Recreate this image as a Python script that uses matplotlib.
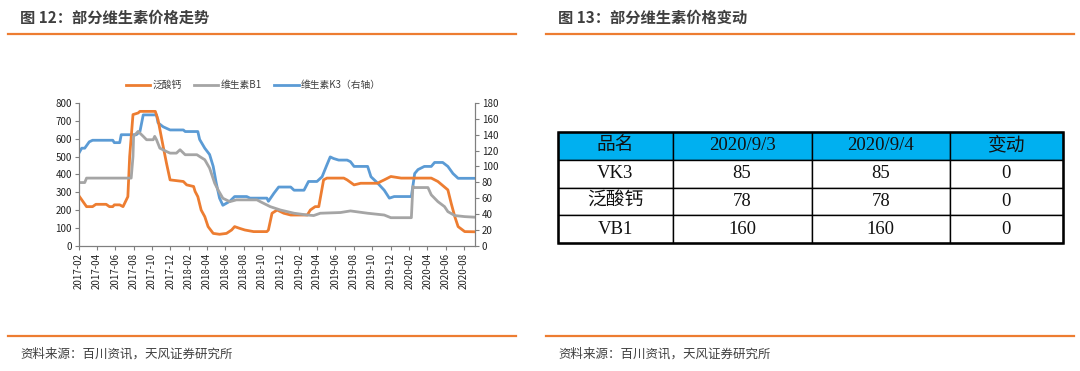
import matplotlib
matplotlib.use("Agg")
import matplotlib.pyplot as plt
import pandas as pd

plt.rcParams['font.family'] = ['Noto Sans CJK SC', 'DejaVu Sans']
plt.rcParams['axes.unicode_minus'] = False

# ---- data ----
ca_dates = ["2017-02-01", "2017-02-26", "2017-03-18", "2017-03-29", "2017-05-02", "2017-05-13",
            "2017-05-24", "2017-05-29", "2017-06-16", "2017-06-27", "2017-07-13", "2017-07-19",
            "2017-07-30", "2017-08-16", "2017-08-22", "2017-10-12", "2017-10-21", "2017-11-07",
            "2017-11-18", "2017-11-30", "2018-01-13", "2018-01-24", "2018-02-16", "2018-02-21",
            "2018-03-02", "2018-03-13", "2018-03-25", "2018-04-05", "2018-04-22", "2018-05-13",
            "2018-06-05", "2018-06-22", "2018-07-02", "2018-07-19", "2018-08-05", "2018-09-03",
            "2018-10-17", "2018-10-22", "2018-11-03", "2018-11-20", "2018-12-12", "2019-01-04",
            "2019-02-28", "2019-03-10", "2019-03-26", "2019-04-07", "2019-04-23", "2019-05-04",
            "2019-06-29", "2019-07-10", "2019-08-02", "2019-08-24", "2019-10-19", "2019-10-30",
            "2019-11-10", "2019-12-02", "2020-01-05", "2020-02-08", "2020-04-14", "2020-05-06",
            "2020-06-08", "2020-06-19", "2020-07-01", "2020-07-12", "2020-08-03", "2020-09-04"]
ca_values = [279, 219, 219, 232, 232, 219,
             219, 229, 229, 219, 275, 500,
             735, 744, 753, 753, 706, 557,
             463, 369, 360, 341, 332, 304,
             275, 200, 163, 107, 69, 64,
             69, 88, 107, 97, 88, 79,
             79, 88, 182, 200, 182, 172,
             172, 200, 219, 219, 369, 379,
             379, 369, 341, 350, 350, 360,
             369, 388, 379, 379, 379, 360,
             313, 238, 163, 107, 79, 78]

b1_dates = ["2017-02-01", "2017-02-20", "2017-02-26", "2017-07-24", "2017-07-30", "2017-08-01",
            "2017-08-16", "2017-09-02", "2017-09-13", "2017-10-05", "2017-10-10", "2017-10-16",
            "2017-10-27", "2017-11-18", "2017-11-30", "2017-12-21", "2018-01-02", "2018-01-19",
            "2018-02-27", "2018-03-08", "2018-03-25", "2018-04-10", "2018-04-27", "2018-05-08",
            "2018-05-24", "2018-06-16", "2018-07-08", "2018-09-14", "2018-09-25", "2018-10-28",
            "2018-12-01", "2019-01-15", "2019-02-28", "2019-03-21", "2019-04-12", "2019-06-18",
            "2019-07-21", "2019-09-16", "2019-11-10", "2019-12-02", "2020-02-08", "2020-02-13",
            "2020-02-19", "2020-04-03", "2020-04-14", "2020-05-06", "2020-05-28", "2020-06-08",
            "2020-07-01", "2020-08-03", "2020-09-04"]
b1_values = [354, 354, 379, 379, 500, 613,
             641, 613, 594, 594, 613, 594,
             547, 528, 519, 519, 538, 510,
             510, 500, 482, 435, 350, 313,
             266, 247, 257, 257, 247, 219,
             200, 182, 172, 169, 182, 186,
             195, 182, 172, 157, 157, 332,
             326, 326, 285, 247, 219, 191,
             169, 163, 160]

k3_dates = ["2017-02-01", "2017-02-10", "2017-02-20", "2017-03-07", "2017-03-18", "2017-05-24",
            "2017-05-29", "2017-06-16", "2017-06-21", "2017-08-10", "2017-08-22", "2017-09-02",
            "2017-10-16", "2017-10-21", "2017-11-07", "2017-11-30", "2018-01-13", "2018-01-19",
            "2018-03-02", "2018-03-08", "2018-03-25", "2018-04-10", "2018-04-22", "2018-05-02",
            "2018-05-13", "2018-05-24", "2018-06-16", "2018-07-02", "2018-08-11", "2018-08-22",
            "2018-10-17", "2018-10-22", "2018-11-09", "2018-11-25", "2019-01-04", "2019-01-15",
            "2019-02-17", "2019-03-04", "2019-04-01", "2019-04-18", "2019-05-04", "2019-05-15",
            "2019-05-26", "2019-06-12", "2019-07-10", "2019-07-21", "2019-08-02", "2019-09-16",
            "2019-09-27", "2019-10-19", "2019-11-10", "2019-11-27", "2019-12-13", "2020-02-08",
            "2020-02-19", "2020-03-01", "2020-03-22", "2020-04-14", "2020-04-25", "2020-05-22",
            "2020-06-08", "2020-06-25", "2020-07-12", "2020-09-04"]
k3_values = [117, 123, 123, 131, 133, 133,
             130, 130, 140, 140, 144, 165,
             165, 155, 150, 146, 146, 144,
             144, 134, 123, 115, 100, 79,
             60, 51, 56, 62, 62, 60,
             60, 56, 66, 74, 74, 70,
             70, 81, 81, 87, 102, 112,
             110, 108, 108, 106, 100, 100,
             87, 79, 70, 60, 62, 62,
             91, 96, 100, 100, 105, 105,
             100, 91, 85, 85]

table_header = ["品名", "2020/9/3", "2020/9/4", "变动"]
table_rows = [["VK3", "85", "85", "0"],
              ["泛酸钙", "78", "78", "0"],
              ["VB1", "160", "160", "0"]]

ORANGE = "#ED7D31"
GRAY = "#A5A5A5"
BLUE = "#5B9BD5"
TXT = "#3F3F3F"

fig = plt.figure(figsize=(10.8, 3.71), dpi=100)
W, H = 1080, 371

def fx(px):
    return px / W

def fy(py):
    return 1 - py / H

# ---- headers / footers ----
fig.text(fx(20), fy(18), "图 12：部分维生素价格走势", fontsize=11, fontweight='bold',
         color=TXT, va='center', ha='left')
fig.text(fx(558), fy(18), "图 13：部分维生素价格变动", fontsize=11, fontweight='bold',
         color=TXT, va='center', ha='left')
for x0, x1 in [(8, 516), (546, 1074)]:
    fig.add_artist(plt.Line2D([fx(x0), fx(x1)], [fy(34), fy(34)], color=ORANGE, lw=1.6))
    fig.add_artist(plt.Line2D([fx(x0), fx(x1)], [fy(336), fy(336)], color=ORANGE, lw=1.6))
fig.text(fx(20), fy(354), "资料来源：百川资讯，天风证券研究所", fontsize=9, color=TXT,
         va='center', ha='left')
fig.text(fx(558), fy(354), "资料来源：百川资讯，天风证券研究所", fontsize=9, color=TXT,
         va='center', ha='left')

# ---- line chart ----
ax = fig.add_axes([fx(79), fy(245.7), fx(475 - 79), (245.7 - 103) / H])
ax2 = ax.twinx()

l1, = ax.plot(pd.to_datetime(ca_dates), ca_values, color=ORANGE, lw=2, label="泛酸钙")
l2, = ax.plot(pd.to_datetime(b1_dates), b1_values, color=GRAY, lw=2, label="维生素B1")
l3, = ax2.plot(pd.to_datetime(k3_dates), k3_values, color=BLUE, lw=2, label="维生素K3（右轴）")

ax.set_ylim(0, 800)
ax.set_yticks(range(0, 801, 100))
ax2.set_ylim(0, 180)
ax2.set_yticks(range(0, 181, 20))
ax.set_xlim(pd.Timestamp("2017-02-01"), pd.Timestamp("2020-09-06"))
ticks = pd.date_range("2017-02-01", "2020-08-01", freq="2MS")
ax.set_xticks(ticks)
ax.set_xticklabels([t.strftime("%Y-%m") for t in ticks], rotation=90)

for a in (ax, ax2):
    a.spines['top'].set_visible(False)
    for s in ('left', 'right', 'bottom'):
        a.spines[s].set_color("#7F7F7F")
        a.spines[s].set_linewidth(0.8)
    a.tick_params(labelsize=7, colors="#7F7F7F", labelcolor="#222222", length=3, width=0.8)
ax.tick_params(axis='x', pad=2)
ax.tick_params(axis='y', pad=2)
ax2.tick_params(axis='y', pad=2)
ax.set_zorder(ax2.get_zorder() + 1)
ax.patch.set_visible(False)

leg = ax.legend(handles=[l1, l2, l3], loc='center', bbox_to_anchor=(0.44, 1.126), ncol=3,
                frameon=False, fontsize=7, handlelength=2.5, handletextpad=0.2,
                columnspacing=1.3)
for t in leg.get_texts():
    t.set_color(TXT)

# ---- table ----
tax = fig.add_axes([fx(558), fy(243), fx(1062.5 - 558), (243 - 132) / H])
tax.axis('off')
col_w = [672.5 - 558, 811.6 - 672.5, 950 - 811.6, 1062.5 - 950]
tot = sum(col_w)
tbl = tax.table(cellText=table_rows, colLabels=table_header, cellLoc='center',
                colWidths=[c / tot for c in col_w], bbox=[0, 0, 1, 1])
tbl.auto_set_font_size(False)
for (r, c), cell in tbl.get_celld().items():
    cell.set_edgecolor("black")
    cell.set_linewidth(1.0)
    cell.get_text().set_fontsize(13.5)
    cell.get_text().set_family(['Liberation Serif', 'Noto Sans CJK SC'])
    cell.get_text().set_color("#111111")
    if r == 0:
        cell.set_facecolor("#00B0F0")
tax.add_patch(plt.Rectangle((0, 0), 1, 1, transform=tax.transAxes, fill=False,
                            edgecolor="black", lw=1.8, clip_on=False, zorder=5))

fig.savefig("out.png", dpi=100)
